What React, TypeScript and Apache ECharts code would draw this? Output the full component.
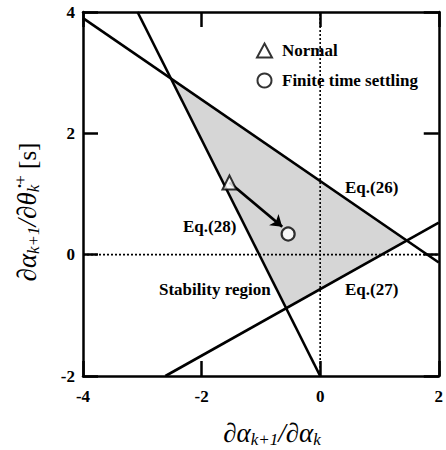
import React, { useEffect, useRef } from "react";
import * as echarts from "echarts";

const eq26: number[][] = [[-4, 3.9], [2, -0.13]];
const eq27: number[][] = [[-2.61, -2], [2, 0.53]];
const eq28: number[][] = [[-3.08, 4], [0, -2]];
const region: number[][] = [[-2.52, 2.9], [1.46, 0.23], [-0.57, -0.88]];
const zeroV: number[][] = [[0, -2], [0, 4]];
const zeroH: number[][] = [[-4, 0], [2, 0]];
const normalPt: number[][] = [[-1.53, 1.19]];
const finitePt: number[][] = [[-0.54, 0.34]];
const arrowPath: number[][] = [[-1.53, 1.19], [-0.64, 0.46]];
const annotations = [
  { text: "Eq.(26)", x: 345, y: 187 },
  { text: "Eq.(28)", x: 183, y: 226 },
  { text: "Stability region", x: 159, y: 289 },
  { text: "Eq.(27)", x: 345, y: 289 },
];

const FONT = "'Liberation Serif', 'Times New Roman', serif";

export default function App() {
  const ref = useRef<HTMLDivElement>(null);
  useEffect(() => {
    const chart = echarts.init(ref.current!, null, { renderer: "svg" });
    const axisLine = { show: true, onZero: false, lineStyle: { color: "#000", width: 2.5 } };
    const axisTick = { show: true, inside: true, length: 15, lineStyle: { color: "#000", width: 2.5 } };
    const lineSeries = (data: number[][], extra: any = {}) => ({
      type: "line",
      data,
      symbol: "none",
      silent: true,
      lineStyle: { color: "#000", width: 2.6 },
      ...extra,
    });
    chart.setOption({
      animation: false,
      backgroundColor: "#fff",
      grid: { left: 83, right: 2, top: 12, bottom: 74, containLabel: false },
      xAxis: [
        {
          type: "value", min: -4, max: 2, interval: 2,
          position: "bottom",
          axisLine, axisTick,
          axisLabel: { color: "#000", fontFamily: FONT, fontWeight: "bold", fontSize: 17, margin: 12 },
          splitLine: { show: false },
        },
        {
          type: "value", min: -4, max: 2, interval: 2,
          position: "top",
          axisLine, axisTick,
          axisLabel: { show: false },
          splitLine: { show: false },
        },
      ],
      yAxis: [
        {
          type: "value", min: -2, max: 4, interval: 2,
          position: "left",
          axisLine, axisTick,
          axisLabel: { color: "#000", fontFamily: FONT, fontWeight: "bold", fontSize: 17, margin: 8 },
          splitLine: { show: false },
        },
        {
          type: "value", min: -2, max: 4, interval: 2,
          position: "right",
          axisLine, axisTick,
          axisLabel: { show: false },
          splitLine: { show: false },
        },
      ],
      legend: {
        orient: "vertical",
        left: 251,
        top: 37,
        itemWidth: 15,
        itemHeight: 14,
        itemGap: 13,
        data: ["Normal", "Finite time settling"],
        textStyle: { color: "#000", fontFamily: FONT, fontWeight: "bold", fontSize: 17, padding: [0, 0, 0, 5] },
      },
      series: [
        {
          type: "custom",
          silent: true,
          data: [region[0]],
          renderItem: (params: any, api: any) => ({
            type: "polygon",
            shape: { points: region.map((p) => api.coord(p)) },
            style: { fill: "#d6d6d6" },
          }),
          z: 1,
        },
        lineSeries(zeroV, { lineStyle: { color: "#000", width: 1.6, type: [2, 2] }, z: 2 }),
        lineSeries(zeroH, { lineStyle: { color: "#000", width: 1.6, type: [2, 2] }, z: 2 }),
        lineSeries(eq26, { z: 3 }),
        lineSeries(eq27, { z: 3 }),
        lineSeries(eq28, { z: 3 }),
        {
          type: "lines",
          coordinateSystem: "cartesian2d",
          silent: true,
          symbol: ["none", "arrow"],
          symbolSize: 11,
          lineStyle: { color: "#000", width: 2.8, opacity: 1 },
          data: [{ coords: arrowPath }],
          z: 4,
        },
        {
          name: "Normal",
          type: "scatter",
          symbol: "triangle",
          symbolSize: 14,
          data: normalPt,
          itemStyle: { color: "#fff", borderColor: "#000", borderWidth: 2 },
          z: 5,
        },
        {
          name: "Finite time settling",
          type: "scatter",
          symbol: "circle",
          symbolSize: 13,
          data: finitePt,
          itemStyle: { color: "#fff", borderColor: "#000", borderWidth: 2.2 },
          z: 5,
        },
      ],
      graphic: [
        ...annotations.map((a) => ({
          type: "text",
          x: a.x,
          y: a.y,
          style: {
            text: a.text,
            fill: "#000",
            font: `bold 17px ${FONT}`,
            verticalAlign: "middle",
            align: "left",
          },
        })),
        {
          type: "text",
          x: 272,
          y: 433,
          style: {
            text: "{m|∂α}{s|k+1}{m|/∂α}{s|k}",
            align: "center",
            verticalAlign: "middle",
            fill: "#000",
            rich: {
              m: { fontFamily: FONT, fontStyle: "italic", fontSize: 27, lineHeight: 30, fill: "#000" },
              s: { fontFamily: FONT, fontStyle: "italic", fontSize: 17, lineHeight: 14, verticalAlign: "bottom", fill: "#000" },
            },
          },
        },
        {
          type: "text",
          x: 27,
          y: 212,
          rotation: Math.PI / 2,
          style: {
            text: "{m|∂α}{s|k+1}{m|/∂θ̇}{s|k}{p|+}{u| [s]}",
            align: "center",
            verticalAlign: "middle",
            fill: "#000",
            rich: {
              m: { fontFamily: FONT, fontStyle: "italic", fontSize: 27, lineHeight: 30, fill: "#000" },
              u: { fontFamily: FONT, fontSize: 25, lineHeight: 30, fill: "#000" },
              s: { fontFamily: FONT, fontStyle: "italic", fontSize: 17, lineHeight: 14, verticalAlign: "bottom", fill: "#000" },
              p: { fontFamily: FONT, fontSize: 17, lineHeight: 14, verticalAlign: "top", fill: "#000" },
            },
          },
        },
      ],
    });
    return () => chart.dispose();
  }, []);
  return (
    <div
      ref={ref}
      style={{ position: "fixed", left: 0, top: 0, width: 446, height: 450 }}
    />
  );
}
